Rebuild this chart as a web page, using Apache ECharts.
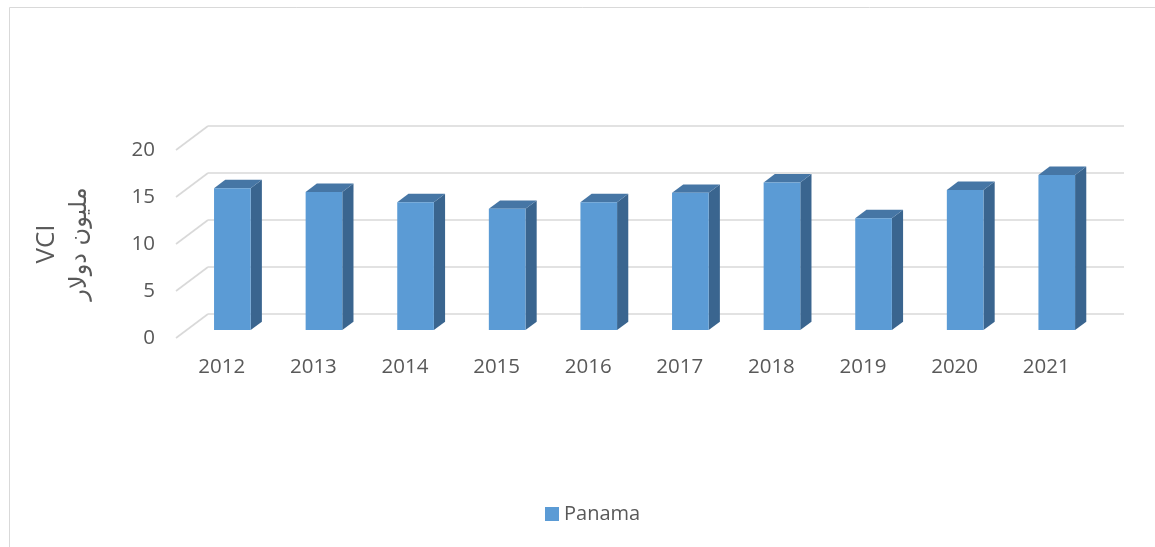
<!DOCTYPE html>
<html>
<head>
<meta charset="utf-8">
<title>Panama VCI</title>
<script src="https://cdn.jsdelivr.net/npm/echarts@6/dist/echarts.min.js"></script>
<style>
  html, body { margin: 0; padding: 0; background: #ffffff; }
  #chart { width: 1155px; height: 547px; }
</style>
</head>
<body>
<div id="chart"></div>
<script>
// Categories and values
const years = ['2012', '2013', '2014', '2015', '2016', '2017', '2018', '2019', '2020', '2021'];
const panama = [15.1, 14.7, 13.6, 12.9, 13.6, 14.6, 15.7, 11.9, 14.9, 16.5];
const yTicks = [0, 5, 10, 15, 20];

// Oblique projection of the floor depth (pixels from front plane to back wall)
const DX = 32;
const DY = -24;
// Bar occupies this slice of the depth
const F0 = 0.33;
const F1 = 0.68;
const BAR_FRACTION = 0.4;

const FRONT = '#5B9BD5';
const TOP = '#4676A5';
const SIDE = '#3A658F';
const GRID = '#D9D9D9';
const TEXT = '#595959';

const chart = echarts.init(document.getElementById('chart'), null, { renderer: 'canvas' });

// Back-wall gridlines plus the diagonal floor/wall connectors on the left
function renderGrid(params, api) {
  const v = api.value(1);
  const band = api.size([1, 0])[0];
  const first = api.coord([0, v]);
  const last = api.coord([years.length - 1, v]);
  const xl = first[0] - band / 2;
  const xr = last[0] + band / 2;
  const y = first[1];
  const style = { stroke: GRID, lineWidth: 1.6, fill: null };
  return {
    type: 'group',
    children: [
      { type: 'line', shape: { x1: xl, y1: y, x2: xl + DX, y2: y + DY }, style: style },
      { type: 'line', shape: { x1: xl + DX, y1: y + DY, x2: xr + DX, y2: y + DY }, style: style }
    ]
  };
}

// Box-shaped column: front face, top and right side
function renderBar(params, api) {
  const i = api.value(0);
  const v = api.value(1);
  const top = api.coord([i, v]);
  const base = api.coord([i, 0]);
  const band = api.size([1, 0])[0];
  const w = band * BAR_FRACTION;
  const ox = F0 * DX, oy = F0 * DY;
  const bx = (F1 - F0) * DX, by = (F1 - F0) * DY;
  const x1 = top[0] - w / 2 + ox;
  const x2 = x1 + w;
  const yt = top[1] + oy;
  const yb = base[1] + oy;
  return {
    type: 'group',
    children: [
      {
        type: 'polygon',
        shape: { points: [[x2, yt], [x2 + bx, yt + by], [x2 + bx, yb + by], [x2, yb]] },
        style: { fill: SIDE }
      },
      {
        type: 'polygon',
        shape: { points: [[x1, yt], [x2, yt], [x2 + bx, yt + by], [x1 + bx, yt + by]] },
        style: { fill: TOP }
      },
      {
        type: 'rect',
        shape: { x: x1, y: yt, width: w, height: yb - yt },
        style: { fill: FRONT }
      }
    ]
  };
}

const option = {
  backgroundColor: '#ffffff',
  animation: false,
  graphic: [
    {
      type: 'rect',
      left: 7, top: 5,
      shape: { x: 0, y: 0, width: 1200, height: 600 },
      style: { fill: null, stroke: GRID, lineWidth: 1 },
      silent: true,
      z: -10
    }
  ],
  legend: {
    data: ['Panama'],
    left: 540,
    top: 499,
    icon: 'rect',
    itemWidth: 14,
    itemHeight: 14,
    itemGap: 10,
    textStyle: { color: TEXT, fontSize: 20, fontFamily: 'Open Sans' }
  },
  grid: { left: 176, right: 63, top: 150, bottom: 209 },
  xAxis: {
    type: 'category',
    data: years,
    axisLine: { show: false },
    axisTick: { show: false },
    splitLine: { show: false },
    axisLabel: { color: TEXT, fontSize: 20.5, fontFamily: 'Open Sans', margin: 19 }
  },
  yAxis: {
    type: 'value',
    min: 0,
    max: 20,
    interval: 5,
    axisLine: { show: false },
    axisTick: { show: false },
    splitLine: { show: false },
    axisLabel: { color: TEXT, fontSize: 20.5, fontFamily: 'Open Sans', margin: 21 },
    name: '{a|VCI}\n{b|مليون دولار}',
    nameLocation: 'middle',
    nameRotate: 90,
    nameGap: 80,
    nameTextStyle: {
      color: TEXT,
      align: 'center',
      rich: {
        a: { fontSize: 26, fontFamily: 'Open Sans', color: TEXT, lineHeight: 34, align: 'center' },
        b: { fontSize: 24, fontFamily: 'DejaVu Sans', color: TEXT, lineHeight: 32, align: 'center' }
      }
    }
  },
  series: [
    {
      name: 'grid',
      type: 'custom',
      renderItem: renderGrid,
      data: yTicks.map(v => [0, v]),
      encode: { x: 0, y: 1 },
      silent: true,
      z: 1
    },
    {
      name: 'Panama',
      type: 'custom',
      renderItem: renderBar,
      itemStyle: { color: FRONT },
      data: panama.map((v, i) => [i, v]),
      encode: { x: 0, y: 1 },
      z: 2
    }
  ]
};

chart.setOption(option);
</script>
</body>
</html>
